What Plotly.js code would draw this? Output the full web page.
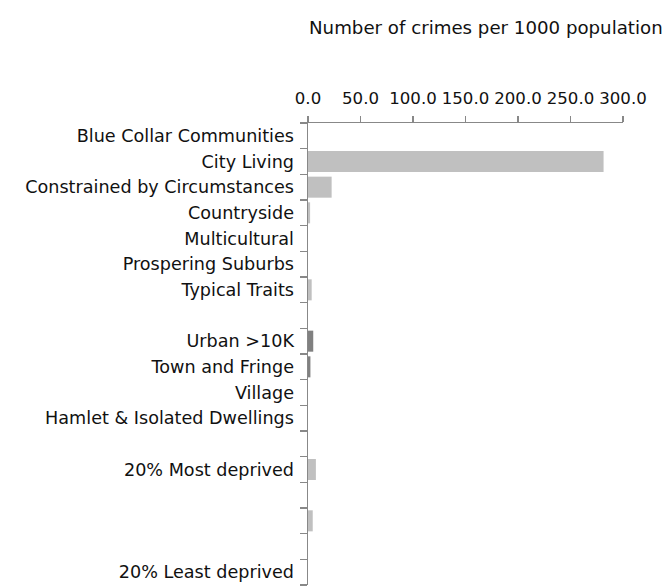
<!DOCTYPE html>
<html>
<head>
<meta charset="utf-8">
<script src="https://cdn.plot.ly/plotly-3.0.1.min.js"></script>
<style>html,body{margin:0;padding:0;background:#fff;}#chart{width:672px;height:586px;}</style>
</head>
<body>
<div id="chart"></div>
<script>
// Category labels (empty strings are unlabeled rows / separators)
const categories = [
  "Blue Collar Communities",
  "City Living",
  "Constrained by Circumstances",
  "Countryside",
  "Multicultural",
  "Prospering Suburbs",
  "Typical Traits",
  "",
  "Urban >10K",
  "Town and Fringe",
  "Village",
  "Hamlet & Isolated Dwellings",
  "",
  "20% Most deprived",
  "",
  "",
  "",
  "20% Least deprived"
];
// Number of crimes per 1000 population
const values = [0, 281.5, 22.5, 2, 0, 0, 3.5, 0, 5, 2.3, 0, 0, 0, 7.5, 0, 4.5, 0, 0];
const xTickVals = [0, 50, 100, 150, 200, 250, 300];
const axisTitle = "Number of crimes per 1000 population";

const groupColor = {light: "#c0c0c0", dark: "#808080"};
const colors = categories.map((c, i) => (i === 8 || i === 9) ? groupColor.dark : groupColor.light);

const rowIdx = categories.map((c, i) => i);
const boundaries = categories.map((c, i) => i - 0.5).concat([categories.length - 0.5]);
const yRange = [categories.length - 0.5, -0.5];

const FONT = "'DejaVu Sans', sans-serif";
const FS = 17.6;
const AX = "#888";

const trace = {
  type: "bar",
  orientation: "h",
  y: rowIdx,
  x: values,
  marker: {color: colors, line: {width: 0}},
  hoverinfo: "x"
};
// invisible helper trace so the boundary-tick axis is drawn
const helper = {
  type: "scatter", mode: "markers",
  x: [0], y: [0], yaxis: "y2",
  marker: {opacity: 0}, hoverinfo: "skip", showlegend: false
};

const layout = {
  width: 672, height: 586,
  margin: {l: 308, r: 49, t: 123, b: 1, pad: 0},
  paper_bgcolor: "#fff", plot_bgcolor: "#fff",
  showlegend: false,
  bargap: 0.18,
  font: {family: FONT, size: FS, color: "#111"},
  xaxis: {
    side: "top",
    range: [0, 300],
    tickvals: xTickVals,
    tickformat: ".1f",
    showgrid: false, zeroline: false,
    showline: true, linecolor: AX, linewidth: 1.5,
    ticks: "outside", ticklen: 6, tickcolor: AX, tickwidth: 1.5,
    ticklabelstandoff: 5,
    tickfont: {family: FONT, size: 16.6, color: "#111"},
    fixedrange: true
  },
  yaxis: {
    range: yRange,
    tickvals: rowIdx,
    ticktext: categories,
    ticks: "",
    ticklabelstandoff: 9,
    showgrid: false, zeroline: false,
    showline: true, linecolor: AX, linewidth: 1.5,
    tickfont: {family: FONT, size: FS, color: "#111"},
    fixedrange: true
  },
  yaxis2: {
    overlaying: "y",
    anchor: "x",
    side: "left",
    range: yRange,
    tickvals: boundaries,
    showticklabels: false,
    ticks: "outside", ticklen: 7, tickcolor: AX, tickwidth: 1.5,
    showgrid: false, zeroline: false, showline: false,
    fixedrange: true
  },
  annotations: [{
    text: axisTitle,
    xref: "paper", yref: "paper",
    x: 1.132, y: 1.207, xanchor: "right", yanchor: "middle",
    showarrow: false,
    font: {family: FONT, size: 18.2, color: "#111"}
  }]
};

Plotly.newPlot("chart", [trace, helper], layout, {displayModeBar: false, staticPlot: true});
</script>
</body>
</html>
